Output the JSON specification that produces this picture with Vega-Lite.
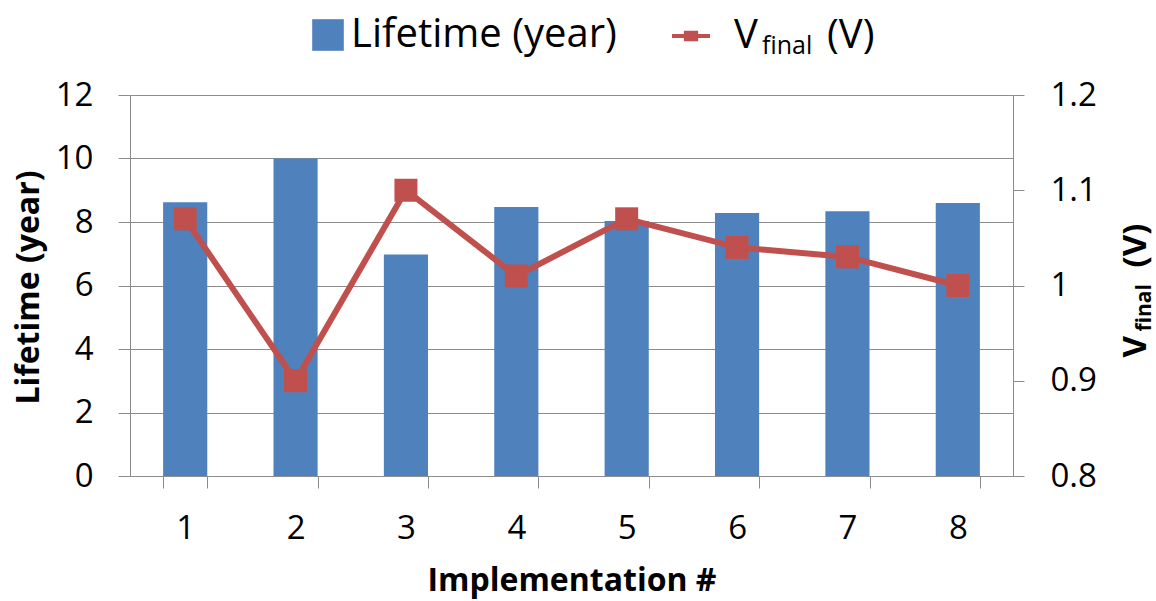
{
  "$schema": "https://vega.github.io/schema/vega-lite/v6.json",
  "width": 883,
  "height": 381,
  "autosize": {"type": "none"},
  "padding": {"left": 130, "top": 95, "right": 143, "bottom": 125},
  "background": "white",
  "config": {
    "font": "Open Sans",
    "view": {"stroke": null},
    "axis": {"labelColor": "#000000", "titleColor": "#000000"},
    "legend": {"labelColor": "#000000", "titleColor": "#000000", "labelLimit": 500}
  },
  "data": {
    "values": [
      {"impl": 1, "life": 8.62, "vfinal": 1.07},
      {"impl": 2, "life": 10.0, "vfinal": 0.90},
      {"impl": 3, "life": 6.98, "vfinal": 1.10},
      {"impl": 4, "life": 8.47, "vfinal": 1.01},
      {"impl": 5, "life": 8.03, "vfinal": 1.07},
      {"impl": 6, "life": 8.28, "vfinal": 1.04},
      {"impl": 7, "life": 8.34, "vfinal": 1.03},
      {"impl": 8, "life": 8.60, "vfinal": 1.00}
    ]
  },
  "encoding": {
    "x": {
      "field": "impl",
      "type": "ordinal",
      "scale": {"paddingInner": 0.6, "paddingOuter": 0.3},
      "axis": {
        "title": "Implementation #",
        "titleFontSize": 32,
        "titleFontWeight": "bold",
        "titleBaseline": "alphabetic",
        "titleY": 114,
        "labelAngle": 0,
        "labelFontSize": 33,
        "labelPadding": 24,
        "tickBand": "extent",
        "tickSize": 12,
        "tickColor": "#8c8c8c",
        "domainColor": "#8c8c8c",
        "grid": false
      }
    }
  },
  "layer": [
    {
      "mark": {"type": "bar"},
      "encoding": {
        "y": {
          "field": "life",
          "type": "quantitative",
          "scale": {"domain": [0, 12], "nice": false},
          "axis": {
            "orient": "left",
            "values": [0, 2, 4, 6, 8, 10, 12],
            "title": "Lifetime (year)",
            "titleFontSize": 32,
            "titleFontWeight": "bold",
            "titleAngle": 270,
            "titleAlign": "center",
            "titleBaseline": "middle",
            "titleX": -102,
            "titleY": 192,
            "labelFontSize": 33,
            "labelPadding": 25,
            "tickSize": 12,
            "tickColor": "#8c8c8c",
            "domainColor": "#8c8c8c",
            "grid": true,
            "gridColor": "#8c8c8c",
            "gridOpacity": 1
          }
        },
        "color": {
          "datum": "Lifetime (year)",
          "scale": {"range": ["#4F81BD"]},
          "legend": {
            "title": null,
            "orient": "none",
            "legendX": 178,
            "legendY": -80,
            "symbolType": "square",
            "symbolSize": 1000,
            "symbolStrokeWidth": 0,
            "labelFontSize": 40,
            "labelOffset": 3
          }
        }
      }
    },
    {
      "mark": {"type": "line", "strokeWidth": 6},
      "encoding": {
        "y": {
          "field": "vfinal",
          "type": "quantitative",
          "scale": {"domain": [0.8, 1.2], "nice": false},
          "axis": {
            "orient": "right",
            "values": [0.8, 0.9, 1, 1.1, 1.2],
            "labelExpr": "datum.value == 1 ? '1' : format(datum.value, '.1f')",
            "labelFontSize": 33,
            "labelPadding": 26,
            "tickSize": 11,
            "tickColor": "#8c8c8c",
            "domainColor": "#8c8c8c",
            "grid": false,
            "title": "V\u00a0\u00a0\u00a0\u00a0\u00a0\u00a0\u00a0\u00a0(V)",
            "titleFontSize": 33,
            "titleFontWeight": "bold",
            "titleAngle": 270,
            "titleAlign": "left",
            "titleBaseline": "alphabetic",
            "titleX": 132,
            "titleY": 262
          }
        },
        "color": {
          "datum": "V",
          "scale": {"range": ["#C0504D"]},
          "legend": {
            "title": "(V)",
            "titleOrient": "right",
            "titleFontSize": 40,
            "titleFontWeight": "normal",
            "titlePadding": 69,
            "orient": "none",
            "legendX": 540,
            "legendY": -80,
            "symbolType": "M-1,0H-0.27M0.27,0H1M-0.27,-0.17H0.27V0.17H-0.27Z",
            "symbolSize": 1444,
            "symbolFillColor": "#C0504D",
            "symbolStrokeColor": "#C0504D",
            "symbolStrokeWidth": 4,
            "labelFontSize": 40,
            "labelOffset": 22
          }
        }
      }
    },
    {
      "mark": {"type": "point", "shape": "square", "filled": true, "size": 529, "opacity": 1},
      "encoding": {
        "y": {
          "field": "vfinal",
          "type": "quantitative",
          "scale": {"domain": [0.8, 1.2], "nice": false},
          "axis": {
            "orient": "right",
            "domain": false,
            "ticks": false,
            "labels": false,
            "grid": false,
            "title": "final",
            "titleFontSize": 21,
            "titleFontWeight": "bold",
            "titleAngle": 270,
            "titleAlign": "left",
            "titleBaseline": "alphabetic",
            "titleX": 137,
            "titleY": 236
          }
        },
        "color": {
          "datum": "final",
          "scale": {"range": ["#C0504D"]},
          "legend": {
            "title": null,
            "orient": "none",
            "legendX": 607,
            "legendY": -62,
            "symbolOpacity": 0,
            "symbolSize": 1,
            "labelFontSize": 25,
            "labelOffset": 0
          }
        }
      }
    }
  ],
  "resolve": {
    "scale": {"y": "independent", "color": "independent"},
    "axis": {"y": "independent"},
    "legend": {"color": "independent"}
  }
}
